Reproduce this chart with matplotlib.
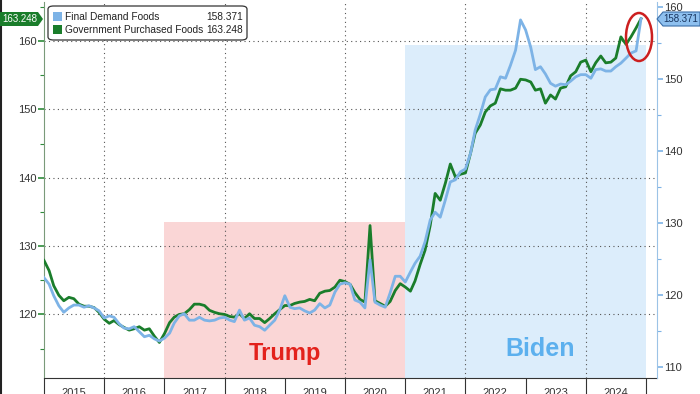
import matplotlib
matplotlib.use('Agg')
import matplotlib.pyplot as plt
from matplotlib.patches import Polygon, Ellipse, FancyBboxPatch, Rectangle
from matplotlib.lines import Line2D
import pandas as pd

plt.rcParams['font.family'] = ['Liberation Sans', 'DejaVu Sans']

# monthly PPI indexes, Jan 2015 .. Dec 2024
months = pd.date_range('2015-01-01', periods=120, freq='MS')

gov_foods = [127.9, 126.4, 124.2, 122.8, 122.0, 122.5, 122.3, 121.5, 121.2, 121.2, 121.0, 120.3,
             119.3, 118.7, 119.1, 118.5, 118.1, 117.7, 117.9, 118.2, 117.7, 117.9, 116.8, 115.9,
             117.2, 118.8, 119.6, 120.0, 120.1, 120.7, 121.5, 121.5, 121.3, 120.6, 120.3, 120.1,
             120.0, 119.7, 119.6, 120.1, 119.4, 120.1, 119.4, 119.4, 118.8, 119.4, 120.1, 120.7,
             121.3, 121.3, 121.6, 121.8, 121.9, 122.2, 122.0, 123.1, 123.4, 123.5, 124.0, 125.0,
             124.8, 124.4, 123.2, 122.2, 121.8, 133.0, 122.0, 121.6, 121.2, 121.9, 123.5, 124.5,
             124.0, 123.4, 124.9, 127.3, 129.4, 133.0, 137.7, 136.7, 139.2, 142.0, 140.1, 140.5,
             140.7, 143.6, 146.5, 147.7, 149.6, 150.5, 150.9, 153.0, 152.8, 152.8, 153.1, 154.4,
             154.3, 154.0, 152.8, 153.0, 150.9, 152.1, 151.5, 153.1, 153.3, 154.9, 155.5, 156.9,
             157.2, 155.5, 156.8, 157.8, 156.8, 156.9, 157.5, 160.6, 159.5, 160.6, 161.9, 163.248]

final_foods = [122.4, 121.5, 119.9, 118.5, 117.6, 118.2, 118.6, 118.6, 118.3, 118.5, 118.2, 117.8,
               116.8, 117.1, 116.9, 116.0, 115.4, 115.3, 115.6, 114.9, 114.2, 114.4, 113.9, 113.6,
               114.0, 114.7, 116.1, 117.1, 117.4, 116.5, 116.5, 116.9, 116.5, 116.4, 116.5, 116.8,
               116.9, 116.5, 116.3, 117.9, 116.5, 116.8, 115.8, 115.6, 115.1, 115.8, 116.5, 117.9,
               119.9, 118.3, 118.1, 118.2, 117.8, 117.5, 117.9, 118.8, 118.2, 118.6, 120.4, 121.5,
               121.7, 121.5, 119.3, 119.0, 118.2, 124.9, 119.0, 118.6, 118.3, 120.3, 122.6, 122.6,
               121.8, 123.2, 124.4, 125.4, 127.4, 130.4, 131.5, 130.8, 133.2, 135.7, 136.0, 137.1,
               137.5, 139.7, 142.9, 145.1, 147.5, 148.5, 148.6, 150.3, 150.1, 151.9, 154.0, 158.2,
               156.8, 154.4, 151.3, 151.7, 150.7, 149.4, 149.0, 149.3, 149.2, 149.7, 150.3, 150.6,
               150.6, 150.1, 151.3, 151.4, 151.1, 151.1, 151.7, 152.2, 152.9, 153.6, 153.9, 158.371]

years = list(range(2015, 2025))

W, H = 700, 394
def fx(x):
    return x / W
def fy(y):
    return 1 - y / H

fig = plt.figure(figsize=(7, 3.94), dpi=100)
ax = fig.add_axes([fx(44), fy(378), (657 - 44) / W, (378 - 2) / H])
ax2 = ax.twinx()

# shaded terms
ax.fill_between([pd.Timestamp('2017-01-01'), pd.Timestamp('2021-01-01')], 100, 133.5,
                color='#fad6d6', lw=0, zorder=0)
ax.fill_between([pd.Timestamp('2021-01-01'), pd.Timestamp('2025-01-01')], 100, 159.4,
                color='#dcedfb', lw=0, zorder=0)

# grid
ax.set_axisbelow(True)
ax.yaxis.grid(True, linestyle=(0, (1, 3)), color='#555555', lw=0.8)
for yr in [2016, 2018, 2020, 2022, 2024]:
    ax.axvline(pd.Timestamp(f'{yr}-01-01'), linestyle=(0, (1, 3)), color='#555555', lw=0.8, zorder=0.5)

ax.plot(months, gov_foods, color='#1a7d2b', lw=2, zorder=3)
ax2.plot(months, final_foods, color='#7db3e6', lw=2, zorder=3)

ax.set_xlim(pd.Timestamp('2015-01-01'), pd.Timestamp('2025-03-08'))
ax.set_ylim(110.7, 165.7)
ax2.set_ylim(108.47, 160.69)

# x axis: year separators + centred labels
ax.set_xticks([pd.Timestamp(f'{y}-01-01') for y in years + [2025]])
ax.set_xticklabels([])
ax.set_xticks([pd.Timestamp(f'{y}-07-01') for y in years], minor=True)
ax.set_xticklabels([str(y) for y in years], minor=True)
ax.tick_params(axis='x', which='major', length=16, width=0.8, color='#333333', direction='out')
ax.tick_params(axis='x', which='minor', length=0, pad=7, labelsize=8, labelcolor='#333333')

ax.set_yticks([120, 130, 140, 150, 160])
ax.set_yticks([115, 125, 135, 145, 155, 165], minor=True)
ax.tick_params(axis='y', which='both', colors='#2e8b3a', labelcolor='#333333', labelsize=8, pad=1)
ax.tick_params(axis='y', which='major', length=4, width=1.2)
ax.tick_params(axis='y', which='minor', length=3, width=0.8)

ax2.set_yticks([110, 120, 130, 140, 150, 160])
ax2.set_yticks([115, 125, 135, 145, 155], minor=True)
ax2.tick_params(axis='y', which='both', colors='#7db3e6', labelcolor='#333333', labelsize=8, pad=1)
ax2.tick_params(axis='y', which='major', length=4, width=1.2)
ax2.tick_params(axis='y', which='minor', length=3, width=0.8)

for a in (ax, ax2):
    a.spines['top'].set_visible(False)
ax.spines['right'].set_visible(False)
ax2.spines['left'].set_visible(False)
ax.spines['left'].set_color('#7a9a7a')
ax2.spines['right'].set_color('#9cc3e6')
ax.spines['bottom'].set_color('#333333')
ax2.spines['bottom'].set_visible(False)

# labels
ax.text(pd.Timestamp('2019-01-01'), 114.3, 'Trump', color='#e3221c', fontsize=17,
        fontweight='bold', ha='center', va='center', zorder=4)
ax.text(pd.Timestamp('2023-04-01'), 115.0, 'Biden', color='#5cb0ee', fontsize=18,
        fontweight='bold', ha='center', va='center', zorder=4)

# red circle at the end
fig.add_artist(Ellipse((fx(639), fy(37)), 26 / W, 48 / H, transform=fig.transFigure,
                       fill=False, edgecolor='#cc1f1f', lw=1.8, zorder=10))

# legend box
fig.add_artist(FancyBboxPatch((fx(48), fy(40)), 199 / W, 34 / H, transform=fig.transFigure,
                              boxstyle='round,pad=0,rounding_size=0.008', facecolor='white',
                              edgecolor='#333333', lw=0.9, zorder=10))
fig.add_artist(Rectangle((fx(53), fy(21)), 9 / W, 9 / H, transform=fig.transFigure,
                         facecolor='#7db3e6', edgecolor='none', zorder=11))
fig.add_artist(Rectangle((fx(53), fy(34)), 9 / W, 9 / H, transform=fig.transFigure,
                         facecolor='#1a7d2b', edgecolor='none', zorder=11))
fig.text(fx(65), fy(16.5), 'Final Demand Foods', fontsize=7.3, color='#222222', va='center', zorder=12)
fig.text(fx(65), fy(30), 'Government Purchased Foods', fontsize=7.3, color='#222222', va='center', zorder=12)
fig.text(fx(243), fy(16.5), f'{final_foods[-1]:.3f}', fontsize=7.3, color='#222222',
         va='center', ha='right', zorder=12)
fig.text(fx(243), fy(30), f'{gov_foods[-1]:.3f}', fontsize=7.3, color='#222222',
         va='center', ha='right', zorder=12)

# last-value tags on both axes
fig.add_artist(Polygon([(fx(0), fy(12)), (fx(38), fy(12)), (fx(43), fy(19)), (fx(38), fy(26)), (fx(0), fy(26))],
                       closed=True, transform=fig.transFigure, facecolor='#1a7d2b', edgecolor='none', zorder=10))
fig.text(fx(20), fy(19), f'{gov_foods[-1]:.3f}', color='white', fontsize=7, ha='center', va='center', zorder=11)
fig.add_artist(Polygon([(fx(657), fy(19)), (fx(663), fy(12)), (fx(700), fy(12)), (fx(700), fy(26)), (fx(663), fy(26))],
                       closed=True, transform=fig.transFigure, facecolor='#8ec0ef', edgecolor='#3a6ea8',
                       lw=0.8, zorder=10))
fig.text(fx(681), fy(19), f'{final_foods[-1]:.3f}', color='#17345e', fontsize=7, ha='center', va='center', zorder=11)

fig.add_artist(Line2D([0.002, 0.002], [0, 1], transform=fig.transFigure, color='#222222', lw=1.5))

fig.savefig('out.png', dpi=100)
